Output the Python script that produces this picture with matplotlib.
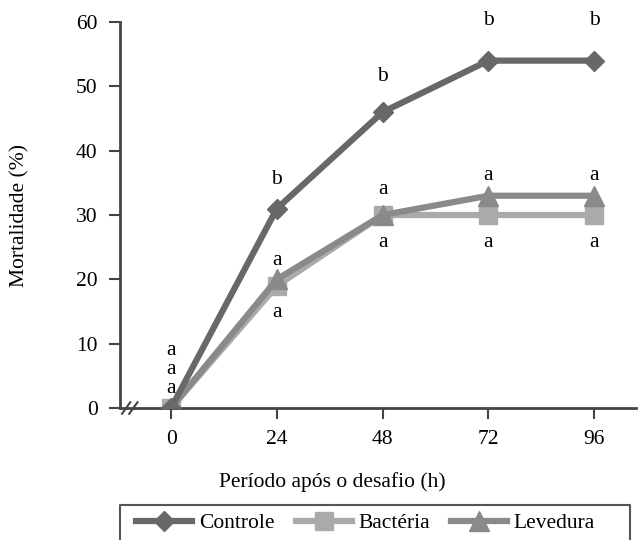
import matplotlib.pyplot as plt
from matplotlib.lines import Line2D

plt.rcParams['font.family'] = ['Liberation Serif', 'DejaVu Serif']

horas = [0, 24, 48, 72, 96]
controle = [0, 31, 46, 54, 54]
bacteria = [0, 19, 30, 30, 30]
levedura = [0, 20, 30, 33, 33]

# letras de significancia: (x, y, texto)
letras = [
    (0, 3, "a"), (0, 6, "a"), (0, 9, "a"),
    (24, 35.5, "b"), (24, 23, "a"), (24, 14.9, "a"),
    (48, 51.6, "b"), (48, 33.9, "a"), (48, 25.8, "a"),
    (72, 60.3, "b"), (72, 36.1, "a"), (72, 25.8, "a"),
    (96, 60.3, "b"), (96, 36.1, "a"), (96, 25.8, "a"),
]

c_ctrl = "#686868"
c_bac = "#aaaaaa"
c_lev = "#8a8a8a"
fs = 15.5

fig = plt.figure(figsize=(6.38, 5.4), dpi=100)
ax = fig.add_axes([0.188, 0.2444, 0.809, 0.7148])

ax.plot(horas, bacteria, color=c_bac, lw=4.5, marker="s", ms=13, zorder=2)
ax.plot(horas, levedura, color=c_lev, lw=4.5, marker="^", ms=14, zorder=3)
ax.plot(horas, controle, color=c_ctrl, lw=4.5, marker="D", ms=10, zorder=4)

for x, y, t in letras:
    ax.text(x, y, t, ha="center", va="center", fontsize=fs, clip_on=False)

ax.set_xlim(-11.6, 105.5)
ax.set_ylim(0, 60)
ax.set_xticks(horas)
ax.set_yticks(range(0, 61, 10))
ax.tick_params(labelsize=fs, length=8, width=1.5, color="#444444", pad=8)
for s in ["top", "right"]:
    ax.spines[s].set_visible(False)
for s in ["left", "bottom"]:
    ax.spines[s].set_linewidth(2)
    ax.spines[s].set_color("#444444")

# marca de quebra do eixo
for dx in (0.012, 0.026):
    ax.plot([dx - 0.008, dx + 0.008], [-0.015, 0.015], transform=ax.transAxes,
            color="#444444", lw=1.5, clip_on=False)

ax.set_xlabel("Período após o desafio (h)", fontsize=fs)
ax.xaxis.set_label_coords(0.411, -0.167)
ax.set_ylabel("Mortalidade (%)", fontsize=fs)
ax.yaxis.set_label_coords(-0.175, 0.5)

# moldura da legenda (sem borda inferior)
x0, x1, y0 = 120 / 638, 630 / 638, 1 - 505 / 540
fig.add_artist(Line2D([x0, x0, x1, x1], [0, y0, y0, 0], transform=fig.transFigure,
                      color="#555555", lw=1.5))

handles = [
    Line2D([], [], color=c_ctrl, lw=4.5, marker="D", ms=10),
    Line2D([], [], color=c_bac, lw=4.5, marker="s", ms=13),
    Line2D([], [], color=c_lev, lw=4.5, marker="^", ms=14),
]
fig.legend(handles, ["Controle", "Bactéria", "Levedura"], ncol=3, frameon=False,
           loc="center", bbox_to_anchor=(0.573, 1 - 523 / 540), fontsize=fs,
           handlelength=2.6, handletextpad=0.3, columnspacing=1.0)

fig.savefig("out.png", dpi=100)
